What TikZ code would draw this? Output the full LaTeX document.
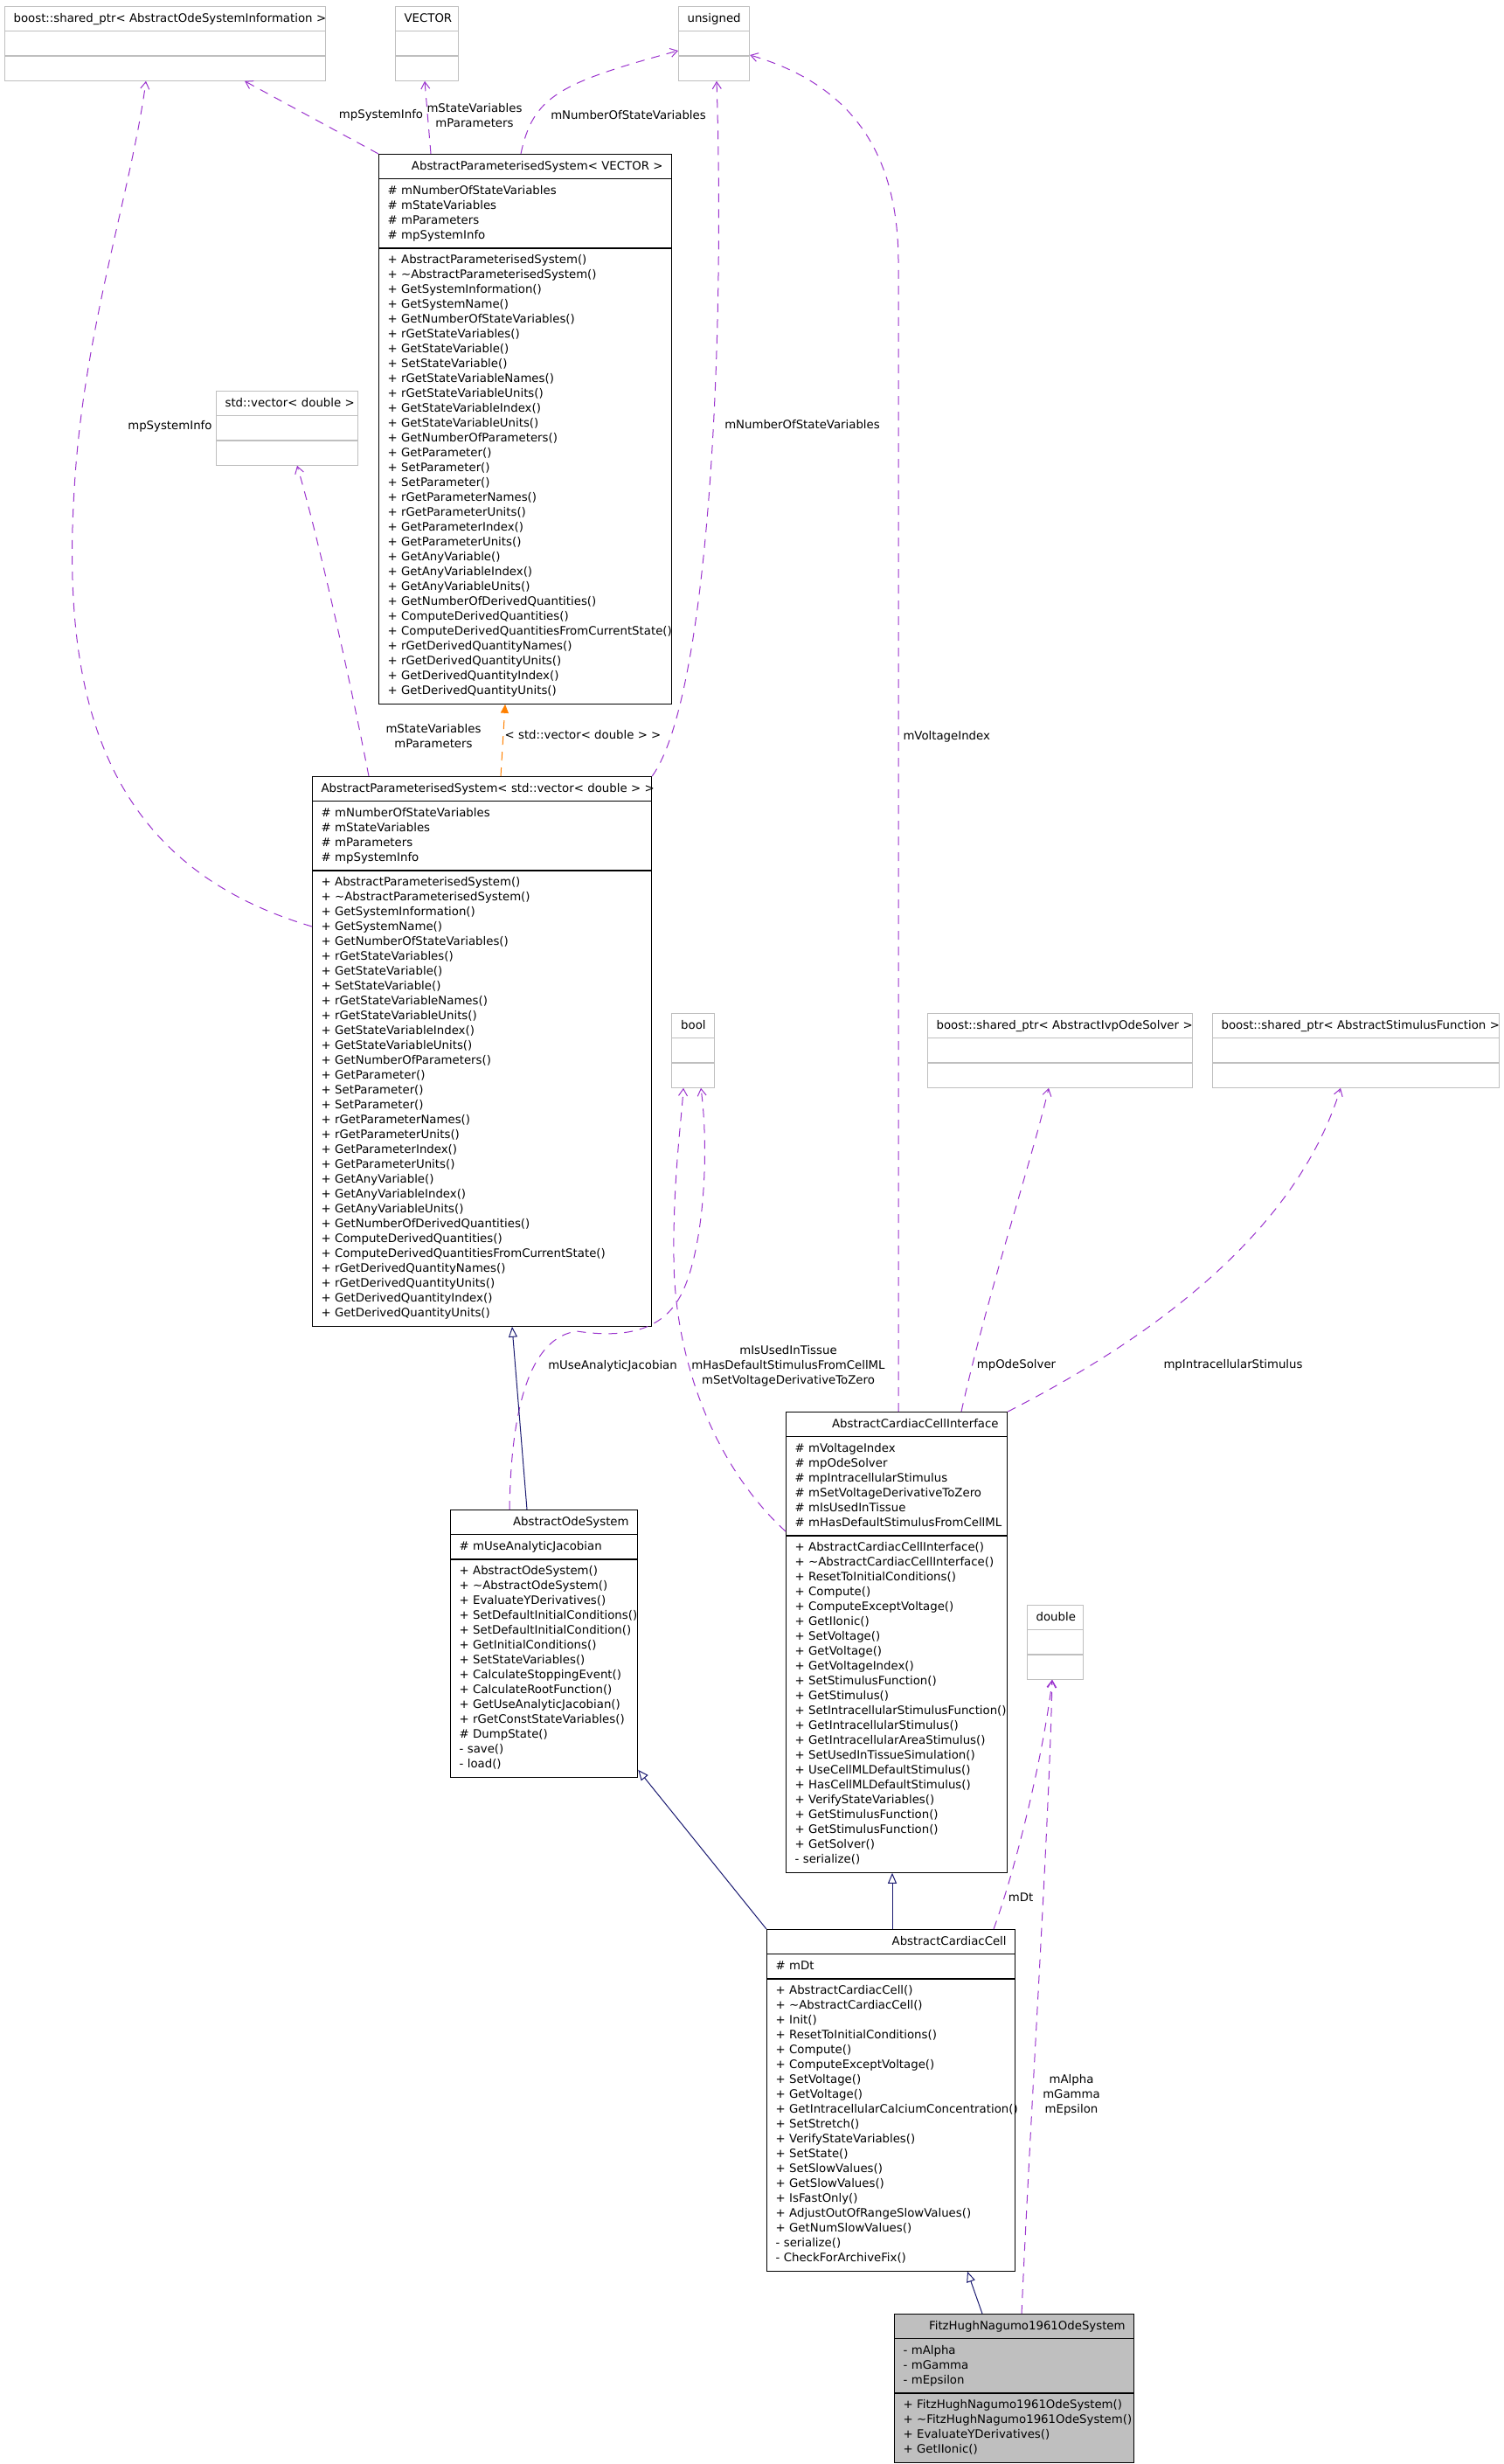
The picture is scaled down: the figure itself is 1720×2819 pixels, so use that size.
\documentclass[tikz,border=0pt]{standalone}
\usepackage{fontspec}
\setmainfont{DejaVu Sans}
\usetikzlibrary{shapes.multipart, arrows.meta, calc}

\definecolor{usecol}{HTML}{9A32CD}
\definecolor{isacol}{HTML}{191970}
\definecolor{extgray}{HTML}{BFBFBF}

\newcommand{\umlfont}{\fontsize{6.65}{8.5}\selectfont\hyphenpenalty=10000 \exhyphenpenalty=10000 }
\newcommand{\hd}[1]{\hspace*{\fill}\mbox{\strut#1}\hspace*{\fill}}

% members shared by both AbstractParameterisedSystem boxes
\newcommand{\apsattrs}{\strut
\#~mNumberOfStateVariables\\
\#~mStateVariables\\
\#~mParameters\\
\#~mpSystemInfo\strut}
\newcommand{\apsmethods}{\strut
+~AbstractParameterisedSystem()\\
+~\textasciitilde AbstractParameterisedSystem()\\
+~GetSystemInformation()\\
+~GetSystemName()\\
+~GetNumberOfStateVariables()\\
+~rGetStateVariables()\\
+~GetStateVariable()\\
+~SetStateVariable()\\
+~rGetStateVariableNames()\\
+~rGetStateVariableUnits()\\
+~GetStateVariableIndex()\\
+~GetStateVariableUnits()\\
+~GetNumberOfParameters()\\
+~GetParameter()\\
+~SetParameter()\\
+~SetParameter()\\
+~rGetParameterNames()\\
+~rGetParameterUnits()\\
+~GetParameterIndex()\\
+~GetParameterUnits()\\
+~GetAnyVariable()\\
+~GetAnyVariableIndex()\\
+~GetAnyVariableUnits()\\
+~GetNumberOfDerivedQuantities()\\
+~ComputeDerivedQuantities()\\
+~ComputeDerivedQuantitiesFromCurrentState()\\
+~rGetDerivedQuantityNames()\\
+~rGetDerivedQuantityUnits()\\
+~GetDerivedQuantityIndex()\\
+~GetDerivedQuantityUnits()\strut}

\begin{document}
\begin{tikzpicture}[x=0.5pt, y=-0.5pt, line width=0.5pt, font=\umlfont,
  cls/.style={draw, rectangle split, rectangle split parts=3, anchor=north west,
              inner xsep=5pt, inner ysep=2.5pt, align=left, line width=0.6pt},
  ext/.style={cls, draw=extgray},
  usedge/.style={draw=usecol, dash pattern=on 5pt off 4pt,
                 -{Straight Barb[length=4pt, width=5pt]}},
  isaedge/.style={draw=isacol, -{Triangle[open, length=6pt, width=5pt]}},
  tmpledge/.style={draw=orange, dash pattern=on 5pt off 4pt,
                   -{Triangle[length=5pt, width=4.5pt]}},
  lbl/.style={align=center, inner sep=0pt}]

  \useasboundingbox (0,0) rectangle (1720,2819);

  % external types
  \node[ext, text width=173.5pt] (info) at (5,7)
    {\hd{boost::shared\_ptr< AbstractOdeSystemInformation >}\nodepart{two}\strut\nodepart{three}\strut};
  \node[ext, text width=26pt] (vec) at (452,7)
    {\hd{VECTOR}\nodepart{two}\strut\nodepart{three}\strut};
  \node[ext, text width=30.5pt] (uns) at (776,7)
    {\hd{unsigned}\nodepart{two}\strut\nodepart{three}\strut};
  \node[ext, text width=71pt] (stdv) at (247,447)
    {\hd{std::vector< double >}\nodepart{two}\strut\nodepart{three}\strut};
  \node[ext, text width=14.5pt] (bool) at (768,1159)
    {\hd{bool}\nodepart{two}\strut\nodepart{three}\strut};
  \node[ext, text width=141.5pt] (ivp) at (1061,1159)
    {\hd{boost::shared\_ptr< AbstractIvpOdeSolver >}\nodepart{two}\strut\nodepart{three}\strut};
  \node[ext, text width=154pt] (stim) at (1387,1159)
    {\hd{boost::shared\_ptr< AbstractStimulusFunction >}\nodepart{two}\strut\nodepart{three}\strut};
  \node[ext, text width=22pt] (dbl) at (1175,1836)
    {\hd{double}\nodepart{two}\strut\nodepart{three}\strut};

  % classes
  \node[cls, text width=157.5pt] (apsv) at (433,176)
    {\hd{AbstractParameterisedSystem< VECTOR >}\nodepart{two}\apsattrs\nodepart{three}\apsmethods};
  \node[cls, text width=184pt] (apsd) at (357,888)
    {\hd{AbstractParameterisedSystem< std::vector< double > >}\nodepart{two}\apsattrs\nodepart{three}\apsmethods};

  \node[cls, text width=97pt] (aos) at (515,1727)
    {\hd{AbstractOdeSystem}
     \nodepart{two}\strut\#~mUseAnalyticJacobian\strut
     \nodepart{three}\strut
     +~AbstractOdeSystem()\\
     +~\textasciitilde AbstractOdeSystem()\\
     +~EvaluateYDerivatives()\\
     +~SetDefaultInitialConditions()\\
     +~SetDefaultInitialCondition()\\
     +~GetInitialConditions()\\
     +~SetStateVariables()\\
     +~CalculateStoppingEvent()\\
     +~CalculateRootFunction()\\
     +~GetUseAnalyticJacobian()\\
     +~rGetConstStateVariables()\\
     \#~DumpState()\\
     -~save()\\
     -~load()\strut};

  \node[cls, text width=116.5pt] (acci) at (899,1615)
    {\hd{AbstractCardiacCellInterface}
     \nodepart{two}\strut
     \#~mVoltageIndex\\
     \#~mpOdeSolver\\
     \#~mpIntracellularStimulus\\
     \#~mSetVoltageDerivativeToZero\\
     \#~mIsUsedInTissue\\
     \#~mHasDefaultStimulusFromCellML\strut
     \nodepart{three}\strut
     +~AbstractCardiacCellInterface()\\
     +~\textasciitilde AbstractCardiacCellInterface()\\
     +~ResetToInitialConditions()\\
     +~Compute()\\
     +~ComputeExceptVoltage()\\
     +~GetIIonic()\\
     +~SetVoltage()\\
     +~GetVoltage()\\
     +~GetVoltageIndex()\\
     +~SetStimulusFunction()\\
     +~GetStimulus()\\
     +~SetIntracellularStimulusFunction()\\
     +~GetIntracellularStimulus()\\
     +~GetIntracellularAreaStimulus()\\
     +~SetUsedInTissueSimulation()\\
     +~UseCellMLDefaultStimulus()\\
     +~HasCellMLDefaultStimulus()\\
     +~VerifyStateVariables()\\
     +~GetStimulusFunction()\\
     +~GetStimulusFunction()\\
     +~GetSolver()\\
     -~serialize()\strut};

  \node[cls, text width=132pt] (acc) at (877,2207)
    {\hd{AbstractCardiacCell}
     \nodepart{two}\strut\#~mDt\strut
     \nodepart{three}\strut
     +~AbstractCardiacCell()\\
     +~\textasciitilde AbstractCardiacCell()\\
     +~Init()\\
     +~ResetToInitialConditions()\\
     +~Compute()\\
     +~ComputeExceptVoltage()\\
     +~SetVoltage()\\
     +~GetVoltage()\\
     +~GetIntracellularCalciumConcentration()\\
     +~SetStretch()\\
     +~VerifyStateVariables()\\
     +~SetState()\\
     +~SetSlowValues()\\
     +~GetSlowValues()\\
     +~IsFastOnly()\\
     +~AdjustOutOfRangeSlowValues()\\
     +~GetNumSlowValues()\\
     -~serialize()\\
     -~CheckForArchiveFix()\strut};

  \node[cls, fill=extgray, text width=127pt] (fhn) at (1023,2647)
    {\hd{FitzHughNagumo1961OdeSystem}
     \nodepart{two}\strut
     -~mAlpha\\
     -~mGamma\\
     -~mEpsilon\strut
     \nodepart{three}\strut
     +~FitzHughNagumo1961OdeSystem()\\
     +~\textasciitilde FitzHughNagumo1961OdeSystem()\\
     +~EvaluateYDerivatives()\\
     +~GetIIonic()\strut};

  % usage of members
  \draw[usedge] (apsv.north west) -- ($(info.south west)+(275,0)$);
  \draw[usedge] ($(apsv.north west)+(60,0)$) -- ($(vec.south west)+(34,0)$);
  \draw[usedge] ($(apsv.north west)+(163,0)$) .. controls (610,110) and (640,95) .. ($(uns.north west)+(0,51)$);
  \draw[usedge] ($(apsd.north west)+(0,172)$) .. controls (120,990) and (70,800) .. (85,560)
                .. controls (95,380) and (150,220) .. ($(info.south west)+(162,0)$);
  \draw[usedge] ($(apsd.north west)+(65,0)$) .. controls (395,750) and (360,600) .. ($(stdv.south west)+(93,0)$);
  \draw[usedge] (apsd.north east) .. controls (810,800) and (830,400) .. ($(uns.south west)+(44,0)$);
  \draw[usedge] ($(acci.north west)+(129,0)$) -- (1028,300) .. controls (1028,150) and (950,90) .. ($(uns.north east)+(0,56)$);
  \draw[usedge] ($(acci.north west)+(201,0)$) .. controls (1130,1480) and (1180,1330) .. ($(ivp.south west)+(139,0)$);
  \draw[usedge] (acci.north east) .. controls (1300,1540) and (1480,1420) .. ($(stim.south west)+(147,0)$);
  \draw[usedge] ($(acci.north west)+(0,137)$) .. controls (820,1680) and (772,1560) .. (771,1440)
                .. controls (770,1350) and (780,1280) .. ($(bool.south west)+(14,0)$);
  \draw[usedge] ($(aos.north west)+(68,0)$) .. controls (585,1600) and (610,1530) .. (660,1523)
                .. controls (720,1532) and (760,1520) .. (780,1480)
                .. controls (805,1430) and (812,1320) .. ($(bool.south west)+(34,0)$);
  \draw[usedge] ($(acc.north west)+(260,0)$) .. controls (1165,2130) and (1195,2000) .. ($(dbl.south west)+(29,0)$);
  \draw[usedge] ($(fhn.north west)+(146,0)$) .. controls (1180,2400) and (1200,2100) .. ($(dbl.south west)+(29,0)$);

  % template instance
  \draw[tmpledge] ($(apsd.north west)+(216,0)$) -- ($(apsv.south west)+(145,0)$);

  % inheritance
  \draw[isaedge] ($(aos.north west)+(88,0)$) -- ($(apsd.south west)+(229,0)$);
  \draw[isaedge] (acc.north west) -- ($(aos.south east)+(0,-9)$);
  \draw[isaedge] ($(acc.north west)+(144,0)$) -- ($(acci.south west)+(122,0)$);
  \draw[isaedge] ($(fhn.north west)+(101,0)$) -- ($(acc.south west)+(230,0)$);

  % edge labels
  \node[lbl] (lInfoV) at (436,132) {mpSystemInfo};
  \node[lbl] (lVec) at (543,132) {mStateVariables\\mParameters};
  \node[lbl] (lUnsV) at (719,132) {mNumberOfStateVariables};
  \node[lbl, anchor=east] (lInfoD) at (243,488) {mpSystemInfo};
  \node[lbl] (lStdv) at (496,842) {mStateVariables\\mParameters};
  \node[lbl] (lTmpl) at (667,841) {< std::vector< double > >};
  \node[lbl] (lUnsD) at (918,486) {mNumberOfStateVariables};
  \node[lbl, anchor=west] (lVolt) at (1033,843) {mVoltageIndex};
  \node[lbl] (lJac) at (701,1563) {mUseAnalyticJacobian};
  \node[lbl] (lBool) at (902,1563) {mIsUsedInTissue\\mHasDefaultStimulusFromCellML\\mSetVoltageDerivativeToZero};
  \node[lbl] (lIvp) at (1163,1562) {mpOdeSolver};
  \node[lbl] (lStim) at (1411,1562) {mpIntracellularStimulus};
  \node[lbl] (lDt) at (1168,2171) {mDt};
  \node[lbl] (lFhn) at (1226,2397) {mAlpha\\mGamma\\mEpsilon};
\end{tikzpicture}
\end{document}
